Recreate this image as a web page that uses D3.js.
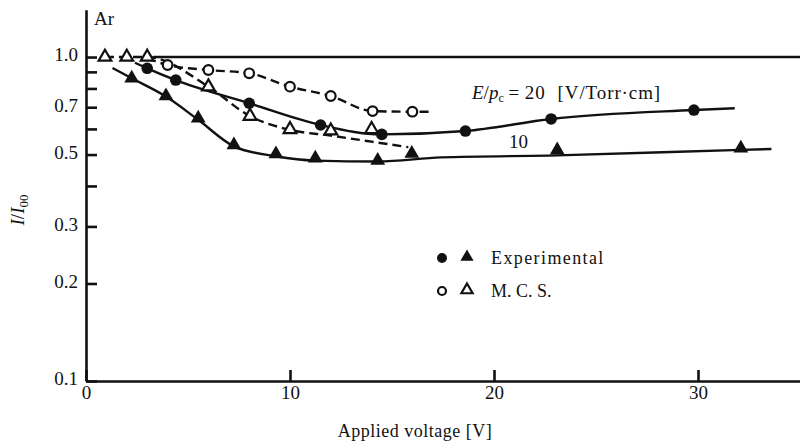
<!DOCTYPE html>
<html>
<head>
<meta charset="utf-8">
<script src="https://cdn.jsdelivr.net/npm/d3@7"></script>
<style>
  body { margin: 0; background: #fff; }
  text { font-family: "Liberation Serif", "DejaVu Serif", serif; fill: #111; }
</style>
</head>
<body>
<div id="svgContainer"></div>
<script>
const width = 800;
const height = 444;

// axis ticks
const yTicks = [0.1, 0.2, 0.3, 0.4, 0.5, 0.6, 0.7, 0.8, 0.9, 1.0];
const yLabels = [0.1, 0.2, 0.3, 0.5, 0.7, 1.0];
const xTicks = [0, 10, 20, 30];

// Experimental, E/pc = 20 (filled circles)
const expCircX = [3.0, 4.4, 8.0, 11.5, 14.5, 18.6, 22.8, 29.8];
const expCircY = [0.923, 0.849, 0.720, 0.617, 0.577, 0.591, 0.644, 0.686];
// drawn curve for it
const expCircLineX = [2.4, 3.0, 4.4, 8.0, 11.5, 14.5, 18.6, 22.8, 29.8, 31.8];
const expCircLineY = [0.96, 0.923, 0.849, 0.720, 0.617, 0.577, 0.591, 0.644, 0.686, 0.695];

// Experimental, E/pc = 10 (filled triangles)
const expTriX = [2.24, 3.92, 5.5, 7.25, 9.31, 11.24, 14.3, 15.97, 23.1, 32.1];
const expTriY = [0.860, 0.758, 0.647, 0.535, 0.502, 0.487, 0.479, 0.504, 0.516, 0.523];
const expTriLineX = [1.3, 2.24, 3.92, 5.5, 7.25, 9.3, 11.24, 14.3, 17.4, 23.1, 32.1, 33.6];
const expTriLineY = [0.925, 0.86, 0.755, 0.64, 0.53, 0.494, 0.479, 0.476, 0.49, 0.497, 0.517, 0.52];

// M.C.S., E/pc = 20 (open circles)
const mcsCircX = [4.0, 6.0, 8.0, 10.0, 12.0, 14.05, 16.0];
const mcsCircY = [0.945, 0.912, 0.891, 0.810, 0.758, 0.681, 0.678];
const mcsCircLineX = [3.0, 4.0, 6.0, 8.0, 10.0, 12.0, 14.05, 16.0, 16.9];
const mcsCircLineY = [0.99, 0.945, 0.912, 0.891, 0.810, 0.758, 0.681, 0.678, 0.678];

// M.C.S., E/pc = 10 (open triangles)
const mcsTriX = [0.93, 2.0, 3.0, 6.0, 8.04, 10.0, 12.0, 14.0];
const mcsTriY = [1.0, 1.0, 1.0, 0.810, 0.657, 0.598, 0.592, 0.598];
const mcsTriLineX = [0.93, 2.0, 3.0, 6.0, 8.04, 10.0, 12.0, 14.0, 15.8];
const mcsTriLineY = [1.0, 1.0, 1.0, 0.810, 0.657, 0.596, 0.572, 0.548, 0.527];

// reference level I/I00 = 1
const refX = [3.3, 35];
const refY = [1.0, 1.0];

const zip = (xs, ys) => xs.map((x, i) => ({x: x, y: ys[i]}));

const svg = d3.select("#svgContainer").append("svg")
  .attr('width', width)
  .attr('height', height)

const x = d3.scaleLinear().domain([0, 35]).range([86, 800]);
const y = d3.scaleLog().domain([0.1, 1.4]).range([381, 9.7]);

const line = d3.line()
  .x(d => x(d.x))
  .y(d => y(d.y))
  .curve(d3.curveMonotoneX);

// axes
const yAxis = d3.axisLeft(y)
  .tickValues(yTicks)
  .tickSizeInner(-11)
  .tickSizeOuter(0)
  .tickPadding(8)
  .tickFormat(d => yLabels.some(v => Math.abs(v - d) < 1e-9) ? d3.format(".1f")(d) : "");

const xAxis = d3.axisBottom(x)
  .tickValues(xTicks)
  .tickSizeInner(-11)
  .tickSizeOuter(0)
  .tickPadding(4);

const gy = svg.append('g')
  .attr('transform', `translate(${x(0)},0)`)
  .call(yAxis);

const gx = svg.append('g')
  .attr('transform', `translate(0,${y(0.1)})`)
  .call(xAxis);

[gx, gy].forEach(g => {
  g.select('.domain').attr('stroke', '#111').attr('stroke-width', 2.6);
  g.selectAll('.tick line').attr('stroke', '#111').attr('stroke-width', 2.6);
  g.selectAll('.tick text')
    .style('font-family', '"Liberation Serif", serif')
    .style('font-size', '19px')
    .attr('fill', '#111');
});
gx.selectAll('.tick text').attr('dy', '0.75em');
gy.selectAll('.tick text').attr('dy', '0.2em');

// curves
function drawLine(xs, ys, dashed) {
  svg.append('path')
    .datum(zip(xs, ys))
    .attr('d', line)
    .attr('fill', 'none')
    .attr('stroke', '#111')
    .attr('stroke-width', 2.4)
    .attr('stroke-dasharray', dashed ? '9,5' : null);
}

drawLine(refX, refY, false);
drawLine(expCircLineX, expCircLineY, false);
drawLine(expTriLineX, expTriLineY, false);
drawLine(mcsCircLineX, mcsCircLineY, true);
drawLine(mcsTriLineX, mcsTriLineY, true);

const triSym = d3.symbol().type(d3.symbolTriangle);

function circles(xs, ys, filled) {
  svg.selectAll(null)
    .data(zip(xs, ys))
    .enter().append('circle')
    .attr('cx', d => x(d.x))
    .attr('cy', d => y(d.y))
    .attr('r', filled ? 5.8 : 4.8)
    .attr('fill', filled ? '#111' : '#fff')
    .attr('stroke', '#111')
    .attr('stroke-width', filled ? 0 : 2.2);
}

function triangles(xs, ys, filled) {
  svg.selectAll(null)
    .data(zip(xs, ys))
    .enter().append('path')
    .attr('d', triSym.size(filled ? 95 : 70))
    .attr('transform', d => `translate(${x(d.x)},${y(d.y)})`)
    .attr('fill', filled ? '#111' : '#fff')
    .attr('stroke', '#111')
    .attr('stroke-width', filled ? 0 : 2.2);
}

circles(expCircX, expCircY, true);
triangles(expTriX, expTriY, true);
circles(mcsCircX, mcsCircY, false);
triangles(mcsTriX, mcsTriY, false);

// legend
const legend = svg.append('g');
legend.append('circle').attr('cx', 442).attr('cy', 258).attr('r', 5).attr('fill', '#111');
legend.append('path').attr('d', triSym.size(75)).attr('transform', 'translate(467,257)').attr('fill', '#111');
legend.append('text').attr('x', 491).attr('y', 264).style('font-size', '18px').style('letter-spacing', '1.4px').text('Experimental');
legend.append('circle').attr('cx', 442).attr('cy', 291).attr('r', 4).attr('fill', '#fff').attr('stroke', '#111').attr('stroke-width', 2.2);
legend.append('path').attr('d', triSym.size(55)).attr('transform', 'translate(467,290)').attr('fill', '#fff').attr('stroke', '#111').attr('stroke-width', 2.2);
legend.append('text').attr('x', 491).attr('y', 297).style('font-size', '18px').text('M. C. S.');

// annotations
const ann = svg.append('text').attr('x', 472).attr('y', 99).style('font-size', '19px');
ann.append('tspan').style('font-style', 'italic').text('E');
ann.append('tspan').text('/');
ann.append('tspan').style('font-style', 'italic').text('p');
ann.append('tspan').attr('dy', 3).style('font-size', '12px').text('c');
ann.append('tspan').attr('dy', -3).style('letter-spacing', '0.9px').text('\u2009=\u200920');
ann.append('tspan').attr('dx', 12).style('letter-spacing', '0.9px').text('[V/Torr·cm]');

svg.append('text').attr('x', 509).attr('y', 148).style('font-size', '19px').text('10');

svg.append('text').attr('x', 94).attr('y', 25).style('font-size', '19px').text('Ar');

svg.append('text')
  .attr('x', 415).attr('y', 437)
  .attr('text-anchor', 'middle')
  .style('font-size', '18px')
  .style('letter-spacing', '0.5px')
  .text('Applied voltage [V]');

const yt = svg.append('text')
  .attr('transform', 'translate(24,210) rotate(-90)')
  .attr('text-anchor', 'middle')
  .style('font-size', '19px');
yt.append('tspan').style('font-style', 'italic').text('I');
yt.append('tspan').text('/');
yt.append('tspan').style('font-style', 'italic').text('I');
yt.append('tspan').attr('dy', 4).style('font-size', '13px').text('00');
</script>
</body>
</html>
